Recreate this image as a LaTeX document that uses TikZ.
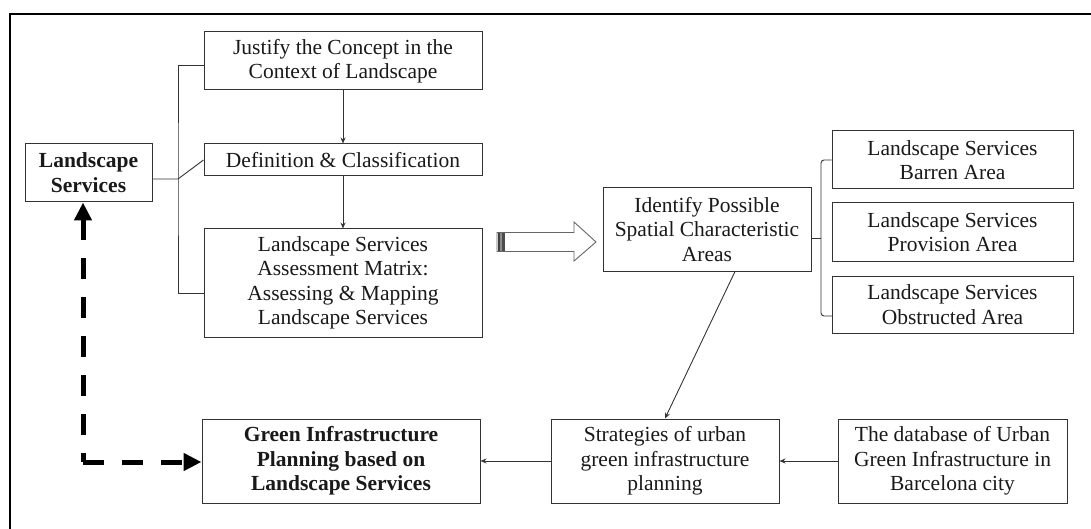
\documentclass[tikz,border=0pt]{standalone}
\usepackage{fontspec}
\setmainfont{Liberation Serif}
\usetikzlibrary{arrows.meta,calc}
\begin{document}
\begin{tikzpicture}[x=1pt,y=-1pt,
  box/.style={draw=black!80,line width=1pt,inner sep=0pt,align=center,
    font=\fontsize{21.5}{24.5}\selectfont,text=black!90},
  link/.style={draw=black!80,line width=0.9pt},
  arr/.style={link,-{Stealth[length=6pt,width=5pt]}},
  bigdash/.style={line width=5pt,dash pattern=on 21pt off 18pt}
]
\useasboundingbox (0,0) rectangle (1091,529);
% outer frame
\draw[line width=1.6pt] (10,529) -- (10,14) -- (1091,14);

% nodes
\node[box,minimum width=127pt,minimum height=58pt,font=\fontsize{21.5}{25}\selectfont\bfseries] (ls) at (88.5,173) {Landscape\\Services};
\node[box,minimum width=278pt,minimum height=58pt] (just) at (343,61) {Justify the Concept in the\\Context of Landscape};
\node[box,minimum width=278pt,minimum height=32pt] (def) at (343,160) {Definition \& Classification};
\node[box,minimum width=278pt,minimum height=108pt] (mat) at (343,283) {Landscape Services\\Assessment Matrix:\\Assessing \& Mapping\\Landscape Services};
\node[box,minimum width=208pt,minimum height=83pt] (ident) at (707,229.5) {Identify Possible\\Spatial Characteristic\\Areas};
\node[box,minimum width=241pt,minimum height=58pt] (barren) at (952.5,160) {Landscape Services\\Barren Area};
\node[box,minimum width=241pt,minimum height=58pt] (prov) at (952.5,232) {Landscape Services\\Provision Area};
\node[box,minimum width=241pt,minimum height=57pt] (obs) at (952.5,304.5) {Landscape Services\\Obstructed Area};
\node[box,minimum width=278pt,minimum height=84pt,font=\fontsize{21.5}{24.5}\selectfont\bfseries] (green) at (341,461) {Green Infrastructure\\Planning based on\\Landscape Services};
\node[box,minimum width=228pt,minimum height=84pt] (strat) at (665,461) {Strategies of urban\\green infrastructure\\planning};
\node[box,minimum width=229pt,minimum height=84pt] (db) at (952.5,461) {The database of Urban\\Green Infrastructure in\\Barcelona city};

% left bracket
\coordinate (lb) at (178,179);
\draw[link] (ls.east |- lb) -- (lb) -- (def.west);
\draw[link] ($(just.west)+(0,4)$) -| (lb) |- ($(mat.west)+(0,10)$);

% vertical arrows
\draw[arr] (just.south) -- (def.north);
\draw[arr] (def.south) -- (mat.north);

% hollow block arrow
\coordinate (ha) at (497,242);
\draw[draw=black!60,line width=0.9pt,fill=white,line join=miter]
  (ha) ++(0,-9.5) -- (574,232.5) -- (574,222) -- (596,242) -- (574,261) -- (574,251.5) -- (497,251.5) -- cycle;
\fill[black!75] (497.5,233) rectangle (500,251);
\fill[black!45] (500,233) rectangle (502,251);
\fill[black!70] (502,233) rectangle (504.5,251);

% right bracket
\coordinate (rb) at (821,238);
\coordinate (rbb) at (832,316);
\draw[link,rounded corners=3pt] (barren.west) -| (rb) |- (rbb);
\draw[link] (ident.east |- rb) -- (rb);

% lower connectors
\draw[arr] ($(ident.south)+(28,0)$) -- (strat.north);
\draw[arr] (db.west) -- (strat.east);
\draw[arr] (strat.west) -- (green.east);

% dashed feedback arrows
\coordinate (corner) at (83,462);
\draw[bigdash,{Triangle[length=18pt,width=17pt]}-] (ls.south -| corner) -- (corner);
\draw[bigdash,-{Triangle[length=18pt,width=17pt]}] (corner) -- (green.west |- corner);
\end{tikzpicture}
\end{document}
